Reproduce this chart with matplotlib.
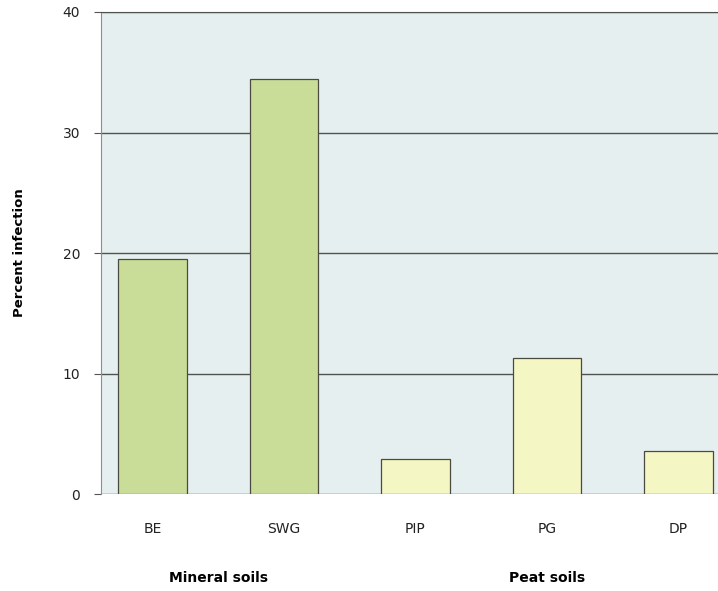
import matplotlib.pyplot as plt

# 数据
categories = ['BE', 'SWG', 'PIP', 'PG', 'DP']
infection = [19.5, 34.4, 2.9, 11.3, 3.6]
soil_group = ['mineral', 'mineral', 'peat', 'peat', 'peat']
group_names = ['Mineral soils', 'Peat soils']
y_ticks = [0, 10, 20, 30, 40]

colors = {'mineral': '#c9dd98', 'peat': '#f4f6c4'}

fig = plt.figure(figsize=(7.18, 5.91), dpi=100)
ax = fig.add_axes([0.1407, 0.1641, 0.8593, 0.8156])
ax.set_facecolor('#e6eff0')

x = list(range(len(categories)))
ax.bar(x, infection, width=0.52, color=[colors[g] for g in soil_group],
       edgecolor='#4a4a40', linewidth=0.9, zorder=3)

ax.set_xlim(-0.39, 4.30)
ax.set_ylim(0, 40)
ax.set_yticks(y_ticks)
ax.set_yticklabels([str(t) for t in y_ticks], fontsize=10, color='#222222')
ax.tick_params(axis='y', length=5, width=0.8, color='#555555', pad=10)
ax.set_xticks(x)
ax.set_xticklabels(categories, fontsize=10, color='#222222')
ax.tick_params(axis='x', length=0, pad=20)

ax.yaxis.grid(True, color='#4f524e', linewidth=1.0, zorder=1)
ax.set_axisbelow(True)
for s in ['right', 'bottom']:
    ax.spines[s].set_visible(False)
ax.spines['top'].set_color('#4f524e')
ax.spines['left'].set_color('#8a8f8a')
ax.spines['left'].set_linewidth(0.8)

ax.set_ylabel('Percent infection', fontsize=9.5, fontweight='bold', labelpad=26)

# 分组标签
ax.text(0.5, -7.0, group_names[0], ha='center', va='center', fontsize=10, fontweight='bold')
ax.text(3.0, -7.0, group_names[1], ha='center', va='center', fontsize=10, fontweight='bold')

fig.savefig('out.png', dpi=100)
